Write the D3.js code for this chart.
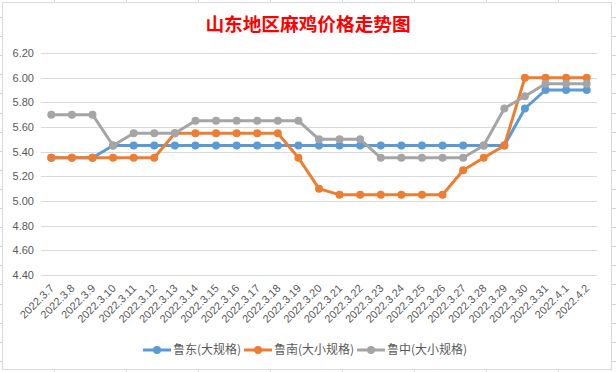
<!DOCTYPE html>
<html lang="zh">
<head>
<meta charset="utf-8">
<title>山东地区麻鸡价格走势图</title>
<script src="https://cdn.jsdelivr.net/npm/d3@7/dist/d3.min.js"></script>
<style>
  body { margin: 0; background: #fff; }
  svg { display: block; }
</style>
</head>
<body>
<script>
var dates = ["2022.3.7", "2022.3.8", "2022.3.9", "2022.3.10", "2022.3.11", "2022.3.12", "2022.3.13",
  "2022.3.14", "2022.3.15", "2022.3.16", "2022.3.17", "2022.3.18", "2022.3.19", "2022.3.20",
  "2022.3.21", "2022.3.22", "2022.3.23", "2022.3.24", "2022.3.25", "2022.3.26", "2022.3.27",
  "2022.3.28", "2022.3.29", "2022.3.30", "2022.3.31", "2022.4.1", "2022.4.2"];

var ludong = [5.35, 5.35, 5.35, 5.45, 5.45, 5.45, 5.45, 5.45, 5.45, 5.45, 5.45, 5.45, 5.45, 5.45,
  5.45, 5.45, 5.45, 5.45, 5.45, 5.45, 5.45, 5.45, 5.45, 5.75, 5.90, 5.90, 5.90];
var lunan = [5.35, 5.35, 5.35, 5.35, 5.35, 5.35, 5.55, 5.55, 5.55, 5.55, 5.55, 5.55, 5.35, 5.10,
  5.05, 5.05, 5.05, 5.05, 5.05, 5.05, 5.25, 5.35, 5.45, 6.00, 6.00, 6.00, 6.00];
var luzhong = [5.70, 5.70, 5.70, 5.45, 5.55, 5.55, 5.55, 5.65, 5.65, 5.65, 5.65, 5.65, 5.65, 5.50,
  5.50, 5.50, 5.35, 5.35, 5.35, 5.35, 5.35, 5.45, 5.75, 5.85, 5.95, 5.95, 5.95];

var seriesNames = ["鲁东(大规格)", "鲁南(大小规格)", "鲁中(大小规格)"];
var seriesColors = ["#5b9bd5", "#ed7d31", "#a5a5a5"];
var yTicks = [4.40, 4.60, 4.80, 5.00, 5.20, 5.40, 5.60, 5.80, 6.00, 6.20];

var series = [ludong, lunan, luzhong].map(function (vals, i) {
  return { name: seriesNames[i], color: seriesColors[i], values: vals };
});

var W = 616, H = 372;
var svg = d3.select("body").append("svg").attr("width", W).attr("height", H);

// spreadsheet cells peeking out around the chart
var sheet = svg.append("g").attr("stroke", "#d4d4d4").attr("stroke-width", 1);
d3.range(17, H, 19.1).forEach(function (y) {
  y = Math.round(y) + 0.5;
  sheet.append("line").attr("x1", 0).attr("x2", 2).attr("y1", y).attr("y2", y);
  sheet.append("line").attr("x1", 612).attr("x2", W).attr("y1", y).attr("y2", y);
});
d3.range(54, W, 72).forEach(function (x) {
  x = Math.round(x) + 0.5;
  sheet.append("line").attr("x1", x).attr("x2", x).attr("y1", 0).attr("y2", 2);
  sheet.append("line").attr("x1", x).attr("x2", x).attr("y1", 370).attr("y2", H);
});

// chart area
svg.append("rect")
  .attr("x", 2.5).attr("y", 2.5)
  .attr("width", 609).attr("height", 367)
  .attr("fill", "#fff").attr("stroke", "#d9d9d9");

svg.append("text")
  .attr("x", 308).attr("y", 31)
  .attr("text-anchor", "middle")
  .attr("font-family", "'Noto Sans CJK SC', sans-serif")
  .attr("font-size", "18.67px")
  .attr("font-weight", "bold")
  .attr("fill", "#ff0000")
  .text("山东地区麻鸡价格走势图");

var x = d3.scalePoint().domain(dates).range([41, 597]).padding(0.5);
var y = d3.scaleLinear().domain([4.4, 6.2]).range([275, 53]);

// gridlines
svg.append("g")
  .selectAll("line")
  .data(yTicks)
  .enter()
  .append("line")
  .attr("x1", 41).attr("x2", 597)
  .attr("y1", function (d) { return Math.round(y(d)) + 0.5; })
  .attr("y2", function (d) { return Math.round(y(d)) + 0.5; })
  .attr("stroke", "#d9d9d9");

// y labels
var yAxis = svg.append("g")
  .attr("transform", "translate(34,0)")
  .call(d3.axisLeft(y).tickValues(yTicks).tickFormat(d3.format(".2f")).tickSize(0).tickPadding(0));
yAxis.select(".domain").remove();
yAxis.selectAll("text")
  .attr("font-family", "'Liberation Sans', Arial, sans-serif")
  .attr("font-size", "11px")
  .attr("fill", "#595959");

// x labels, rotated
var xAxis = svg.append("g")
  .attr("transform", "translate(0,275)")
  .call(d3.axisBottom(x).tickSize(0).tickPadding(0));
xAxis.select(".domain").remove();
xAxis.selectAll("text")
  .attr("font-family", "'Liberation Sans', Arial, sans-serif")
  .attr("font-size", "11px")
  .attr("fill", "#595959")
  .attr("text-anchor", "end")
  .attr("dy", 0)
  .attr("y", 0)
  .attr("transform", "translate(3,14) rotate(-45)");

// lines and markers
var line = d3.line()
  .x(function (d, i) { return x(dates[i]); })
  .y(function (d) { return y(d); });

series.forEach(function (s) {
  var g = svg.append("g");
  g.append("path")
    .attr("d", line(s.values))
    .attr("fill", "none")
    .attr("stroke", s.color)
    .attr("stroke-width", 3)
    .attr("stroke-linejoin", "round")
    .attr("stroke-linecap", "round");
  g.selectAll("circle")
    .data(s.values)
    .enter()
    .append("circle")
    .attr("cx", function (d, i) { return x(dates[i]); })
    .attr("cy", function (d) { return y(d); })
    .attr("r", 4)
    .attr("fill", s.color);
});

// legend
var legendX = [143, 244, 357];
var legend = svg.append("g")
  .selectAll("g")
  .data(series)
  .enter()
  .append("g")
  .attr("transform", function (d, i) { return "translate(" + legendX[i] + ",350)"; });
legend.append("line")
  .attr("x1", 0).attr("x2", 28).attr("y1", 0).attr("y2", 0)
  .attr("stroke", function (d) { return d.color; })
  .attr("stroke-width", 3);
legend.append("circle")
  .attr("cx", 14).attr("cy", 0).attr("r", 4)
  .attr("fill", function (d) { return d.color; });
legend.append("text")
  .attr("x", 30).attr("y", 0).attr("dy", "0.35em")
  .attr("font-family", "'Noto Sans CJK SC', sans-serif")
  .attr("font-size", "12px")
  .attr("fill", "#595959")
  .text(function (d) { return d.name; });
</script>
</body>
</html>
